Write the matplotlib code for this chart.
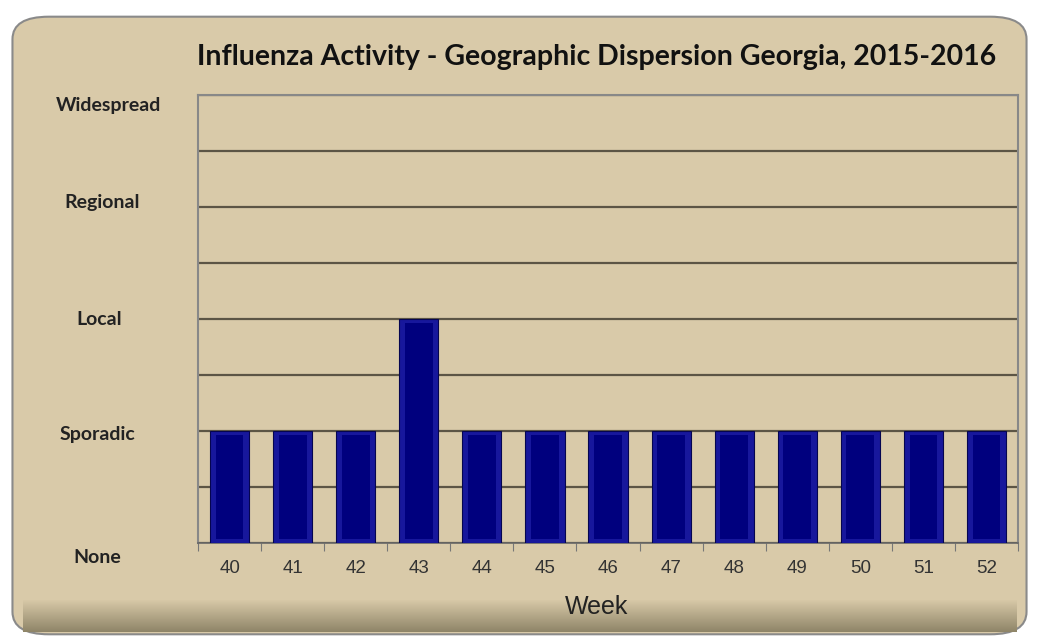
import matplotlib.pyplot as plt
import numpy as np
from matplotlib.colors import LinearSegmentedColormap
from matplotlib.patches import FancyBboxPatch
from matplotlib.transforms import blended_transform_factory

# data
weeks = ["40", "41", "42", "43", "44", "45", "46", "47", "48", "49", "50", "51", "52"]
activity = [2, 2, 2, 4, 2, 2, 2, 2, 2, 2, 2, 2, 2]
level_names = ["None", "Sporadic", "Local", "Regional", "Widespread"]
level_values = [0, 2, 4, 6, 8]

BG = "#d9caa9"
GRID = "#5c5545"

fig = plt.figure(figsize=(10.39, 6.42), dpi=100)
fig.patch.set_facecolor("white")

# rounded frame with a darker band at the bottom
frame = FancyBboxPatch((0.012, 0.012), 0.976, 0.962, boxstyle="round,pad=0,rounding_size=0.035",
                       transform=fig.transFigure, facecolor=BG, edgecolor="#8a8a8a", lw=1.5, zorder=-5)
fig.patches.append(frame)
shade = np.linspace(0, 1, 60).reshape(-1, 1)
band = fig.add_axes([0.022, 0.016, 0.956, 0.05], zorder=-1)
band.imshow(shade, aspect="auto", cmap=LinearSegmentedColormap.from_list("b", [BG, "#8f8568"]),
            extent=(0, 1, 0, 1))
band.axis("off")

ax = fig.add_axes([0.1906, 0.1542, 0.7892, 0.6978], zorder=2)
ax.set_facecolor(BG)
x = np.arange(len(weeks))
vals = np.array(activity, dtype=float)
# bevelled bars: lighter rim, flat navy face
ax.bar(x, vals, width=0.62, color="#17179c", edgecolor="#050550", lw=0.8, zorder=3)
ax.bar(x, vals - 0.14, width=0.44, bottom=0.07, color="#00007e", lw=0, zorder=4)

ax.set_xlim(-0.5, len(weeks) - 0.5)
ax.set_ylim(0, 8)
ax.set_yticks(np.arange(0, 9, 1))
ax.yaxis.grid(True, color=GRID, lw=1.6)
ax.set_axisbelow(True)
ax.tick_params(axis="y", length=0, labelleft=False)
ax.set_xticks(np.arange(-0.5, len(weeks), 1))
ax.set_xticklabels([])
ax.set_xticks(x, minor=True)
ax.set_xticklabels(weeks, minor=True, fontsize=13.5, color="#333333", family="Liberation Sans")
ax.tick_params(axis="x", which="major", length=6, color="#777777", direction="out")
ax.tick_params(axis="x", which="minor", length=0, pad=12)
for side in ["top", "right", "left"]:
    ax.spines[side].set_color("#888888")
    ax.spines[side].set_linewidth(1.5)
ax.spines["bottom"].set_color("#666666")
ax.spines["bottom"].set_linewidth(1.2)

tr = blended_transform_factory(fig.transFigure, ax.transData)
offsets = [-0.25, -0.07, 0.0, 0.08, -0.18]
xpos = [0.094, 0.094, 0.095, 0.098, 0.104]
for name, v, off, xp in zip(level_names, level_values, offsets, xpos):
    fig.text(xp, v + off, name, transform=tr, ha="center", va="center",
             fontsize=14, fontweight="bold", family="Lato", color="#222222")

fig.text(0.574, 0.911, "Influenza Activity - Geographic Dispersion Georgia, 2015-2016",
         ha="center", va="center", fontsize=20.5, fontweight="bold", family="Lato", color="#111111")
fig.text(0.574, 0.054, "Week", ha="center", va="center", fontsize=18,
         family="Liberation Sans", color="#222222")

fig.savefig("out.png", dpi=100, facecolor=fig.get_facecolor())
